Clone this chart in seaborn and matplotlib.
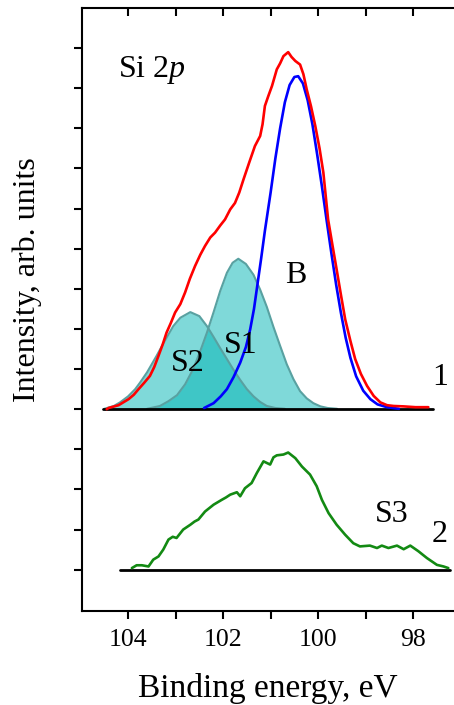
import numpy as np
import pandas as pd
import matplotlib
matplotlib.use("Agg")
import matplotlib.pyplot as plt
import matplotlib.lines as mlines
import seaborn as sns

# spectrum 1 (measured, red), intensity above its baseline
s1_energy = [104.45, 104.41, 104.20, 103.99, 103.88, 103.78, 103.66, 103.54, 103.45, 103.36,
             103.27, 103.19, 103.10, 103.01, 102.90, 102.80, 102.70, 102.59, 102.48, 102.38,
             102.27, 102.17, 102.06, 101.96, 101.85, 101.75, 101.66, 101.57, 101.45, 101.33,
             101.22, 101.17, 101.12, 101.05, 100.97, 100.87, 100.80, 100.73, 100.63, 100.56,
             100.48, 100.38, 100.31, 100.24, 100.15, 100.06, 99.97, 99.89, 99.79, 99.70,
             99.61, 99.52, 99.43, 99.32, 99.22, 99.10, 98.97, 98.83, 98.69, 98.55,
             98.41, 98.20, 97.95, 97.68]
s1_intensity = [0.00, 0.03, 0.10, 0.25, 0.36, 0.50, 0.66, 0.83, 1.05, 1.33,
                1.62, 1.91, 2.15, 2.41, 2.62, 2.91, 3.25, 3.57, 3.85, 4.07,
                4.28, 4.40, 4.58, 4.73, 4.98, 5.14, 5.40, 5.73, 6.15, 6.56,
                6.81, 7.10, 7.56, 7.80, 8.06, 8.47, 8.62, 8.80, 8.90, 8.78,
                8.68, 8.59, 8.35, 7.97, 7.55, 7.06, 6.50, 5.90, 4.73, 4.10,
                3.48, 2.85, 2.24, 1.70, 1.25, 0.88, 0.58, 0.33, 0.17, 0.10,
                0.08, 0.07, 0.05, 0.05]

# fitted component B (blue)
b_energy = [102.40, 102.20, 102.05, 101.92, 101.78, 101.64, 101.52, 101.43, 101.35, 101.29,
            101.20, 101.12, 101.00, 100.90, 100.80, 100.70, 100.60, 100.50, 100.42, 100.32,
            100.22, 100.12, 100.02, 99.92, 99.82, 99.72, 99.62, 99.52, 99.42, 99.32,
            99.20, 99.05, 98.90, 98.75, 98.55, 98.30]
b_intensity = [0.03, 0.15, 0.32, 0.50, 0.80, 1.16, 1.55, 1.99, 2.50, 3.00,
               3.75, 4.45, 5.40, 6.25, 7.00, 7.65, 8.08, 8.28, 8.30, 8.12,
               7.70, 7.10, 6.35, 5.55, 4.70, 3.88, 3.10, 2.40, 1.78, 1.28,
               0.82, 0.46, 0.25, 0.12, 0.05, 0.01]

# fitted component S1
c1_energy = [103.60, 103.33, 103.15, 102.97, 102.80, 102.63, 102.48, 102.34, 102.20, 102.06,
             101.92, 101.80, 101.68, 101.52, 101.36, 101.22, 101.08, 100.94, 100.80, 100.66,
             100.52, 100.38, 100.24, 100.10, 99.95, 99.80, 99.60]
c1_intensity = [0.01, 0.08, 0.20, 0.35, 0.62, 1.00, 1.45, 1.91, 2.42, 2.95,
                3.40, 3.65, 3.75, 3.62, 3.35, 2.98, 2.55, 2.05, 1.58, 1.12,
                0.75, 0.45, 0.27, 0.15, 0.07, 0.03, 0.01]

# fitted component S2
c2_energy = [104.50, 104.30, 104.17, 104.00, 103.85, 103.75, 103.60, 103.40, 103.22, 103.05,
             102.90, 102.69, 102.50, 102.34, 102.20, 102.06, 101.92, 101.78, 101.64, 101.50,
             101.36, 101.22, 101.08, 100.90, 100.70]
c2_intensity = [0.01, 0.08, 0.17, 0.32, 0.50, 0.66, 0.92, 1.33, 1.72, 2.07,
                2.28, 2.42, 2.32, 2.07, 1.80, 1.52, 1.25, 0.98, 0.73, 0.50,
                0.32, 0.18, 0.08, 0.03, 0.01]

# spectrum 2 (measured, green)
s2_energy = [103.92, 103.82, 103.71, 103.57, 103.47, 103.36, 103.26, 103.15, 103.06, 102.98,
             102.84, 102.69, 102.60, 102.52, 102.38, 102.20, 102.03, 101.94, 101.85, 101.71,
             101.64, 101.54, 101.40, 101.29, 101.15, 101.01, 100.94, 100.87, 100.73, 100.63,
             100.48, 100.34, 100.17, 100.03, 99.92, 99.78, 99.61, 99.43, 99.26, 99.12,
             98.91, 98.76, 98.66, 98.52, 98.34, 98.20, 98.06, 97.89, 97.71, 97.50,
             97.36, 97.26]
s2_intensity = [0.04, 0.11, 0.11, 0.08, 0.25, 0.33, 0.50, 0.75, 0.82, 0.79,
                1.00, 1.12, 1.20, 1.25, 1.45, 1.62, 1.74, 1.80, 1.87, 1.93,
                1.83, 2.03, 2.16, 2.41, 2.70, 2.62, 2.80, 2.85, 2.87, 2.92,
                2.78, 2.57, 2.37, 2.08, 1.74, 1.41, 1.12, 0.87, 0.66, 0.58,
                0.60, 0.54, 0.60, 0.54, 0.60, 0.51, 0.60, 0.46, 0.29, 0.12,
                0.08, 0.04]

offset_1 = 5.0
offset_2 = 1.0
base_1 = [104.53, 97.58]
base_2 = [104.17, 97.22]

sns.set_style("ticks")
plt.rcParams['font.family'] = ['Liberation Serif', 'DejaVu Serif']
plt.rcParams['mathtext.fontset'] = 'custom'
plt.rcParams['mathtext.rm'] = 'Liberation Serif'
plt.rcParams['mathtext.it'] = 'Liberation Serif:italic'
plt.rcParams['text.color'] = 'black'
plt.rcParams['axes.labelcolor'] = 'black'
plt.rcParams['xtick.color'] = 'black'
plt.rcParams['ytick.color'] = 'black'

fig = plt.figure(figsize=(4.54, 7.05), dpi=100)
ax = fig.add_axes([82 / 454, 1 - 611 / 705, 372 / 454, 603 / 705])

fill_col = (0.0, 0.71, 0.71)
edge_col = (0.35, 0.63, 0.63)
for en, it in [(c2_energy, c2_intensity), (c1_energy, c1_intensity)]:
    y = np.array(it) + offset_1
    ax.fill_between(en, offset_1, y, color=fill_col, alpha=0.5, lw=0)
    sns.lineplot(x=en, y=y, ax=ax, color=edge_col, lw=1.5, sort=False)

sns.lineplot(x=base_1, y=[offset_1] * 2, ax=ax, color="black", lw=2.0)
sns.lineplot(x=base_2, y=[offset_2] * 2, ax=ax, color="black", lw=2.0)
sns.lineplot(x=b_energy, y=np.array(b_intensity) + offset_1, ax=ax, color="#0000ff", lw=1.9, sort=False)
sns.lineplot(x=s1_energy, y=np.array(s1_intensity) + offset_1, ax=ax, color="#ff0000", lw=1.9, sort=False)
sns.lineplot(x=s2_energy, y=np.array(s2_intensity) + offset_2, ax=ax, color="#138a13", lw=1.9, sort=False)

ax.set_xlim(104.97, 97.14)
ax.set_ylim(-0.03, 15.0)
ax.set_xticks([104, 102, 100, 98])
ax.set_xticks([103, 101, 99], minor=True)
ax.set_yticks(range(1, 15))
ax.set_yticklabels([])
ax.tick_params(axis='both', which='both', direction='out', length=6, width=1.5, colors='black')
ax.tick_params(axis='x', labelsize=18.5, pad=7)
for side in ['left', 'bottom', 'top']:
    ax.spines[side].set_linewidth(1.5)
    ax.spines[side].set_color('black')
ax.spines['right'].set_visible(False)

ax.set_xlabel("Binding energy, eV", fontsize=24)
ax.set_ylabel("Intensity, arb. units", fontsize=23)
ax.xaxis.set_label_coords(0.5, -0.103)
ax.yaxis.set_label_coords(-0.108, 0.549)

fs = 23
ax.text(104.21, 13.45, r"Si 2$p$", fontsize=fs, ha='left', va='center')
ax.text(100.48, 8.34, "B", fontsize=fs, ha='center', va='center')
ax.text(101.64, 6.6, "S1", fontsize=fs, ha='center', va='center')
ax.text(102.74, 6.15, "S2", fontsize=fs, ha='center', va='center')
ax.text(97.43, 5.8, "1", fontsize=fs, ha='center', va='center')
ax.text(98.44, 2.37, "S3", fontsize=fs, ha='center', va='center')
ax.text(97.45, 1.87, "2", fontsize=fs, ha='center', va='center')

# x ticks on both edges: bottom ones point out, top ones point into the frame
ax.tick_params(axis='x', which='both', bottom=True, top=True, labeltop=False,
               length=6, width=1.5, color='black', direction='out')
for t in ax.xaxis.get_major_ticks() + ax.xaxis.get_minor_ticks():
    t.tick1line.set_visible(True)
    t.tick2line.set_visible(True)
    t.tick2line.set_marker(mlines.TICKDOWN)

fig.savefig("out.png", dpi=100)
